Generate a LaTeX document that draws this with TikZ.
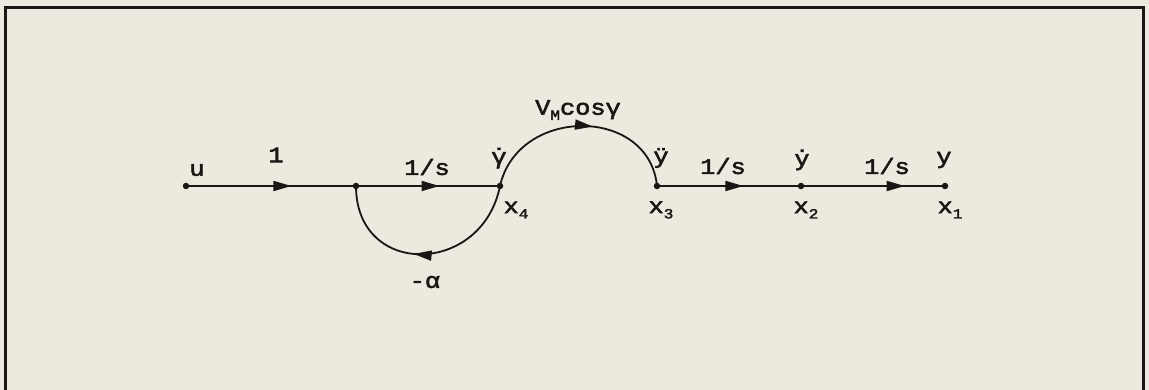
\documentclass[tikz,border=0pt]{standalone}
\usepackage{fontspec}
\setmainfont{Liberation Mono}[FakeStretch=1.15,FakeBold=2.5]
\usetikzlibrary{arrows.meta,decorations.markings}
\definecolor{bg}{RGB}{236,234,222}
\definecolor{ink}{RGB}{25,22,20}
\newcommand{\sbs}[1]{\raisebox{-0.45ex}{\fontsize{14}{15}\selectfont #1}}
\newcommand{\gdot}{\ooalign{γ\cr\hidewidth\char"02D9\hidewidth\cr}}
\tikzset{
  dotnode/.style={circle,fill=ink,draw=none,inner sep=0pt,minimum size=6.5pt},
  edge/.style={draw=ink,line width=1.8pt},
  flow/.style={decoration={markings,mark=at position #1 with {\arrow{Triangle[length=18pt,width=10pt]}}},postaction={decorate}},
  lbl/.style={inner sep=0pt,text=ink,font=\fontsize{22}{24}\selectfont}
}
\begin{document}
\begin{tikzpicture}[x=1pt,y=-1pt]
\fill[bg] (0,0) rectangle (1149,390);
\useasboundingbox (0,0) rectangle (1149,390);
\draw[ink,line width=3pt] (5,395) -- (5,8) -- (1143,8) -- (1143,395);

\node[dotnode] (u) at (186,186) {};
\node[dotnode] (j) at (356,186) {};
\node[dotnode] (x4) at (500,186) {};
\node[dotnode] (x3) at (657,186) {};
\node[dotnode] (x2) at (801,186) {};
\node[dotnode] (x1) at (945,186) {};

\draw[edge,flow=0.62] (u.center) -- (j.center);
\draw[edge,flow=0.58] (j.center) -- (x4.center);
\draw[edge,flow=0.6] (x3.center) -- (x2.center);
\draw[edge,flow=0.72] (x2.center) -- (x1.center);
\draw[edge,flow=0.56] (x4.center) .. controls +(18,-80) and +(-8,-80) .. (x3.center);
\draw[edge,flow=0.55] (x4.center) .. controls +(-18,90) and +(0,92) .. (j.center);

\node[lbl] (lu) at (197,170) {u};
\node[lbl] (l1) at (276,155) {1};
\node[lbl] (ls1) at (427,167) {1/s};
\node[lbl] (lgd) at (499,158) {\gdot};
\node[lbl] (lv) at (578,110) {V\sbs{M}cosγ};
\node[lbl] (lydd) at (661,158) {ÿ};
\node[lbl] (ls2) at (723,166) {1/s};
\node[lbl] (lyd) at (802,160) {ẏ};
\node[lbl] (ls3) at (887,166) {1/s};
\node[lbl] (ly) at (944,160) {y};
\node[lbl] (lx4) at (516,210) {x\sbs{4}};
\node[lbl] (lx3) at (661,210) {x\sbs{3}};
\node[lbl] (lx2) at (806,210) {x\sbs{2}};
\node[lbl] (lx1) at (950,210) {x\sbs{1}};
\node[lbl] (la) at (425,282) {-α};
\end{tikzpicture}
\end{document}
